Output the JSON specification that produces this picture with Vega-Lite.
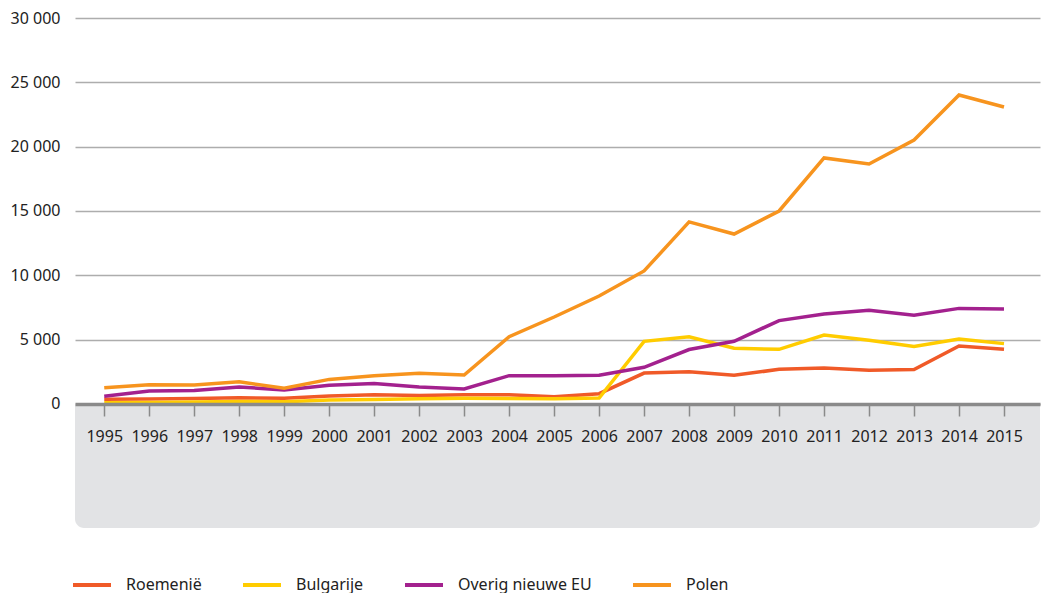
{
  "$schema": "https://vega.github.io/schema/vega-lite/v6.json",
  "width": 965,
  "height": 510,
  "autosize": {"type": "none"},
  "padding": {"left": 75, "top": 18, "right": 1, "bottom": 65},
  "config": {"view": {"stroke": null}, "font": "Noto Sans", "background": "#ffffff"},
  "datasets": {
    "series": [
      {"jaar": 1995, "land": "Roemenië", "aantal": 360},
      {"jaar": 1996, "land": "Roemenië", "aantal": 380},
      {"jaar": 1997, "land": "Roemenië", "aantal": 420},
      {"jaar": 1998, "land": "Roemenië", "aantal": 480},
      {"jaar": 1999, "land": "Roemenië", "aantal": 440},
      {"jaar": 2000, "land": "Roemenië", "aantal": 620},
      {"jaar": 2001, "land": "Roemenië", "aantal": 720},
      {"jaar": 2002, "land": "Roemenië", "aantal": 650},
      {"jaar": 2003, "land": "Roemenië", "aantal": 720},
      {"jaar": 2004, "land": "Roemenië", "aantal": 720},
      {"jaar": 2005, "land": "Roemenië", "aantal": 570},
      {"jaar": 2006, "land": "Roemenië", "aantal": 800},
      {"jaar": 2007, "land": "Roemenië", "aantal": 2400},
      {"jaar": 2008, "land": "Roemenië", "aantal": 2500},
      {"jaar": 2009, "land": "Roemenië", "aantal": 2230},
      {"jaar": 2010, "land": "Roemenië", "aantal": 2690},
      {"jaar": 2011, "land": "Roemenië", "aantal": 2800},
      {"jaar": 2012, "land": "Roemenië", "aantal": 2620},
      {"jaar": 2013, "land": "Roemenië", "aantal": 2670},
      {"jaar": 2014, "land": "Roemenië", "aantal": 4510},
      {"jaar": 2015, "land": "Roemenië", "aantal": 4250},
      {"jaar": 1995, "land": "Bulgarije", "aantal": 100},
      {"jaar": 1996, "land": "Bulgarije", "aantal": 120},
      {"jaar": 1997, "land": "Bulgarije", "aantal": 150},
      {"jaar": 1998, "land": "Bulgarije", "aantal": 200},
      {"jaar": 1999, "land": "Bulgarije", "aantal": 180},
      {"jaar": 2000, "land": "Bulgarije", "aantal": 300},
      {"jaar": 2001, "land": "Bulgarije", "aantal": 350},
      {"jaar": 2002, "land": "Bulgarije", "aantal": 400},
      {"jaar": 2003, "land": "Bulgarije", "aantal": 450},
      {"jaar": 2004, "land": "Bulgarije", "aantal": 430},
      {"jaar": 2005, "land": "Bulgarije", "aantal": 410},
      {"jaar": 2006, "land": "Bulgarije", "aantal": 460},
      {"jaar": 2007, "land": "Bulgarije", "aantal": 4870},
      {"jaar": 2008, "land": "Bulgarije", "aantal": 5230},
      {"jaar": 2009, "land": "Bulgarije", "aantal": 4330},
      {"jaar": 2010, "land": "Bulgarije", "aantal": 4250},
      {"jaar": 2011, "land": "Bulgarije", "aantal": 5360},
      {"jaar": 2012, "land": "Bulgarije", "aantal": 4950},
      {"jaar": 2013, "land": "Bulgarije", "aantal": 4460},
      {"jaar": 2014, "land": "Bulgarije", "aantal": 5050},
      {"jaar": 2015, "land": "Bulgarije", "aantal": 4690},
      {"jaar": 1995, "land": "Overig nieuwe EU", "aantal": 600},
      {"jaar": 1996, "land": "Overig nieuwe EU", "aantal": 1000},
      {"jaar": 1997, "land": "Overig nieuwe EU", "aantal": 1040},
      {"jaar": 1998, "land": "Overig nieuwe EU", "aantal": 1320},
      {"jaar": 1999, "land": "Overig nieuwe EU", "aantal": 1090},
      {"jaar": 2000, "land": "Overig nieuwe EU", "aantal": 1450},
      {"jaar": 2001, "land": "Overig nieuwe EU", "aantal": 1600},
      {"jaar": 2002, "land": "Overig nieuwe EU", "aantal": 1320},
      {"jaar": 2003, "land": "Overig nieuwe EU", "aantal": 1160},
      {"jaar": 2004, "land": "Overig nieuwe EU", "aantal": 2200},
      {"jaar": 2005, "land": "Overig nieuwe EU", "aantal": 2200},
      {"jaar": 2006, "land": "Overig nieuwe EU", "aantal": 2230},
      {"jaar": 2007, "land": "Overig nieuwe EU", "aantal": 2850},
      {"jaar": 2008, "land": "Overig nieuwe EU", "aantal": 4230},
      {"jaar": 2009, "land": "Overig nieuwe EU", "aantal": 4870},
      {"jaar": 2010, "land": "Overig nieuwe EU", "aantal": 6480},
      {"jaar": 2011, "land": "Overig nieuwe EU", "aantal": 7000},
      {"jaar": 2012, "land": "Overig nieuwe EU", "aantal": 7280},
      {"jaar": 2013, "land": "Overig nieuwe EU", "aantal": 6890},
      {"jaar": 2014, "land": "Overig nieuwe EU", "aantal": 7430},
      {"jaar": 2015, "land": "Overig nieuwe EU", "aantal": 7380},
      {"jaar": 1995, "land": "Polen", "aantal": 1260},
      {"jaar": 1996, "land": "Polen", "aantal": 1500},
      {"jaar": 1997, "land": "Polen", "aantal": 1480},
      {"jaar": 1998, "land": "Polen", "aantal": 1720},
      {"jaar": 1999, "land": "Polen", "aantal": 1220},
      {"jaar": 2000, "land": "Polen", "aantal": 1910},
      {"jaar": 2001, "land": "Polen", "aantal": 2200},
      {"jaar": 2002, "land": "Polen", "aantal": 2380},
      {"jaar": 2003, "land": "Polen", "aantal": 2250},
      {"jaar": 2004, "land": "Polen", "aantal": 5230},
      {"jaar": 2005, "land": "Polen", "aantal": 6760},
      {"jaar": 2006, "land": "Polen", "aantal": 8390},
      {"jaar": 2007, "land": "Polen", "aantal": 10340},
      {"jaar": 2008, "land": "Polen", "aantal": 14150},
      {"jaar": 2009, "land": "Polen", "aantal": 13210},
      {"jaar": 2010, "land": "Polen", "aantal": 15000},
      {"jaar": 2011, "land": "Polen", "aantal": 19120},
      {"jaar": 2012, "land": "Polen", "aantal": 18650},
      {"jaar": 2013, "land": "Polen", "aantal": 20520},
      {"jaar": 2014, "land": "Polen", "aantal": 24020},
      {"jaar": 2015, "land": "Polen", "aantal": 23080}
    ]
  },
  "layer": [
    {
      "data": {"values": [{"vlak": "onder"}]},
      "mark": {"type": "rect", "color": "#e2e3e5", "cornerRadius": 9},
      "encoding": {
        "x": {"datum": 1994.35, "type": "quantitative", "scale": {"domain": [1994.35, 2015.8], "nice": false, "zero": false}},
        "x2": {"datum": 2015.8},
        "y": {"datum": -9640, "type": "quantitative", "scale": {"domain": [-9640, 30000], "nice": false, "zero": false}},
        "y2": {"datum": 0}
      }
    },
    {
      "data": {"values": [{"vlak": "boven"}]},
      "mark": {"type": "rect", "color": "#e2e3e5"},
      "encoding": {
        "x": {"datum": 1994.35, "type": "quantitative", "scale": {"domain": [1994.35, 2015.8], "nice": false, "zero": false}},
        "x2": {"datum": 2015.8},
        "y": {"datum": -2000, "type": "quantitative", "scale": {"domain": [-9640, 30000], "nice": false, "zero": false}},
        "y2": {"datum": 0}
      }
    },
    {
      "data": {"name": "series"},
      "mark": {"type": "line", "strokeWidth": 3.5},
      "encoding": {
        "x": {
          "field": "jaar",
          "type": "quantitative",
          "scale": {"domain": [1994.35, 2015.8], "nice": false, "zero": false},
          "axis": {
            "values": [1995, 1996, 1997, 1998, 1999, 2000, 2001, 2002, 2003, 2004, 2005, 2006, 2007, 2008, 2009, 2010, 2011, 2012, 2013, 2014, 2015],
            "format": "d",
            "offset": -124,
            "title": null,
            "grid": false,
            "domainColor": "#8a8a8a",
            "domainWidth": 3.5,
            "tickColor": "#8a8a8a",
            "tickSize": 12,
            "tickWidth": 1.5,
            "labelFontSize": 16,
            "labelColor": "#222222",
            "labelPadding": 12,
            "labelFlush": false,
            "labelOverlap": false,
            "zindex": 1
          }
        },
        "y": {
          "field": "aantal",
          "type": "quantitative",
          "scale": {"domain": [-9640, 30000], "nice": false, "zero": false},
          "axis": {
            "values": [0, 5000, 10000, 15000, 20000, 25000, 30000],
            "title": null,
            "grid": true,
            "gridColor": "#adadad",
            "gridWidth": 1.5,
            "domain": false,
            "ticks": false,
            "labelPadding": 15,
            "labelFontSize": 16,
            "labelColor": "#222222",
            "labelExpr": "replace(format(datum.value, ',d'), ',', ' ')",
            "zindex": 0
          }
        },
        "color": {
          "field": "land",
          "type": "nominal",
          "scale": {
            "domain": ["Roemenië", "Bulgarije", "Overig nieuwe EU", "Polen"],
            "range": ["#f05a28", "#ffcc00", "#a3218e", "#f7941e"]
          },
          "legend": {
            "orient": "none",
            "legendX": -4,
            "legendY": 546,
            "direction": "horizontal",
            "title": null,
            "symbolType": "stroke",
            "symbolSize": 1444,
            "symbolStrokeWidth": 4,
            "labelOffset": 13,
            "columnPadding": 33,
            "labelFontSize": 16,
            "labelColor": "#222222",
            "padding": 0
          }
        }
      }
    }
  ]
}
